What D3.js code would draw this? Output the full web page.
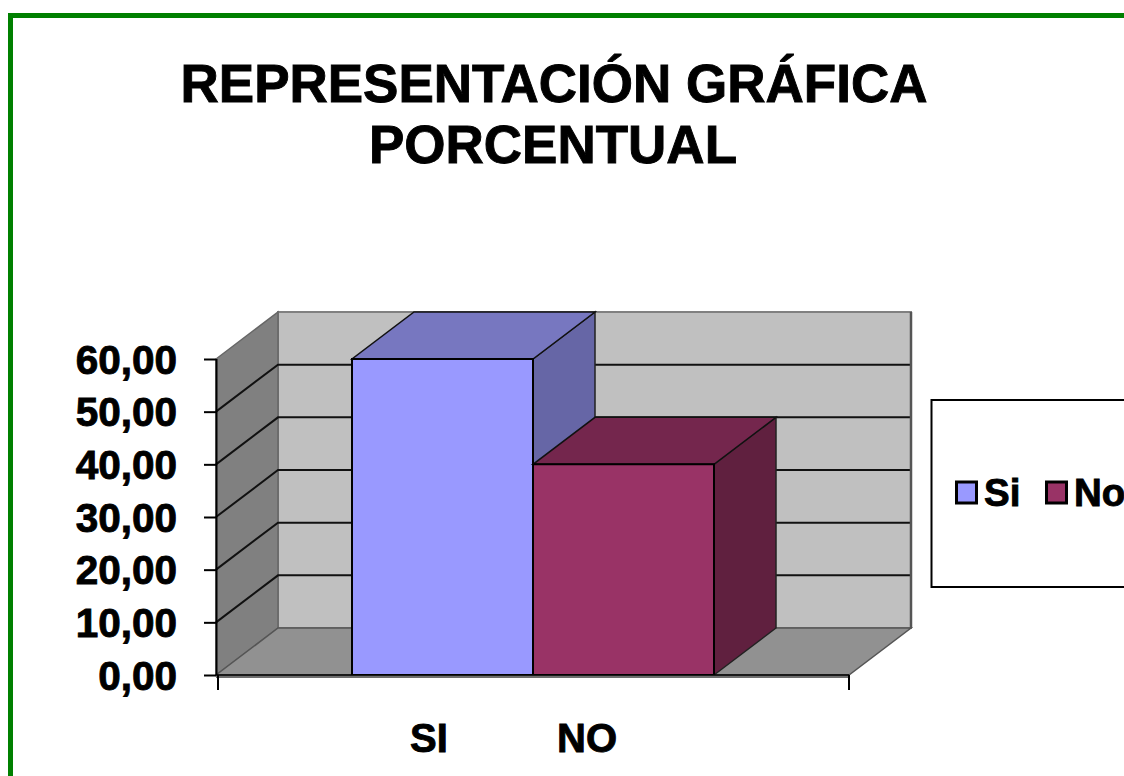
<!DOCTYPE html>
<html>
<head>
<meta charset="utf-8">
<script src="https://cdnjs.cloudflare.com/ajax/libs/d3/7.8.5/d3.min.js"></script>
<style>
    html, body { margin: 0; padding: 0; background: #fff; overflow: hidden; }
    svg { display: block; }
    text { font-family: "Liberation Sans", Arial, sans-serif; font-weight: bold; fill: #000; stroke: #000; stroke-width: 0.9px; }
    .axis path { display: none; }
    .axis line { stroke: #000; stroke-width: 2; }
</style>
</head>
<body>
<svg id="chart" width="1124" height="776"></svg>
<script>
const titleLines = ["REPRESENTACIÓN GRÁFICA", "PORCENTUAL"];
const categories = ["SI", "NO"];
const legendNames = ["Si", "No"];
const values = [60, 40];
const yTicks = [0, 10, 20, 30, 40, 50, 60];
const faceColors = ["#9999ff", "#993366"];
const topColors = ["#7777c0", "#74264d"];
const sideColors = ["#6666a6", "#60203f"];

const svg = d3.select("#chart");

// frame, only left and top show in the picture
svg.append("path")
    .attr("d", "M10.5,776V15.5H1124")
    .attr("fill", "none")
    .attr("stroke", "#008000")
    .attr("stroke-width", 5);

const title = svg.append("g").attr("text-anchor", "middle").attr("font-size", 53);
title.selectAll("text")
    .data(titleLines)
    .enter()
    .append("text")
    .attr("x", (d, i) => i === 0 ? 554 : 553)
    .attr("y", (d, i) => 102 + i * 61)
    .text(d => d);

const yScale = d3.scaleLinear().domain([0, 60]).range([675, 359]);
const wallX = d3.scaleLinear().domain([0, 1]).range([216, 849]);
const barX = d3.scaleBand().domain(categories).range([352, 714]);
const labelX = d3.scaleBand().domain(categories).range([350, 666]);
// 3d offset of the box, 0 = front plane, 1 = back wall
const depthX = d3.scaleLinear().domain([0, 1]).range([0, 62]);
const depthY = d3.scaleLinear().domain([0, 1]).range([0, -47]);

function pt (x, v, depth) {
    return [x + depthX(depth), yScale(v) + depthY(depth)];
}
function poly (parent, points, fill, stroke, strokeWidth) {
    return parent.append("polygon")
        .attr("points", points.map(p => p.join(",")).join(" "))
        .attr("fill", fill)
        .attr("stroke", stroke || "none")
        .attr("stroke-width", strokeWidth || 0);
}

const box = svg.append("g");
const left = wallX(0), right = wallX(1);

// back wall, side wall, floor
poly(box, [pt(left, 0, 1), pt(right, 0, 1), pt(right, 60, 1), pt(left, 60, 1)], "#c0c0c0", "#808080", 2);
poly(box, [pt(left, 0, 0), pt(left, 0, 1), pt(left, 60, 1), pt(left, 60, 0)], "#808080", "#666", 1.5);
poly(box, [pt(left, 0, 0), pt(right, 0, 0), pt(right, 0, 1), pt(left, 0, 1)], "#919191", "#555", 1.5);

// grid lines run along the side wall and the back wall
const grid = box.append("g").attr("fill", "none").attr("stroke", "#111").attr("stroke-width", 2);
grid.selectAll("path")
    .data(yTicks.filter(d => d > 0 && d < 60))
    .enter()
    .append("path")
    .attr("d", d => d3.line()([pt(left, d, 0), pt(left, d, 1), pt(right, d, 1)]));

// dark right edge of the back wall
box.append("line")
    .attr("x1", pt(right, 60, 1)[0]).attr("x2", pt(right, 0, 1)[0])
    .attr("y1", pt(right, 60, 1)[1]).attr("y2", pt(right, 0, 1)[1])
    .attr("stroke", "#555").attr("stroke-width", 2.5);

// bars, first one first so the second covers its side
categories.forEach((c, i) => {
    const x0 = barX(c), x1 = x0 + barX.bandwidth(), v = values[i];
    const g = box.append("g");
    poly(g, [pt(x1, 0, 0), pt(x1, 0, 1), pt(x1, v, 1), pt(x1, v, 0)], sideColors[i], "#222", 1.5);
    poly(g, [pt(x0, v, 0), pt(x1, v, 0), pt(x1, v, 1), pt(x0, v, 1)], topColors[i], "#111", 1.5);
    poly(g, [pt(x0, 0, 0), pt(x1, 0, 0), pt(x1, v, 0), pt(x0, v, 0)], faceColors[i], "#000", 2);
});

// base line under the floor
box.append("line")
    .attr("x1", left).attr("x2", right)
    .attr("y1", yScale(0) + 1.5).attr("y2", yScale(0) + 1.5)
    .attr("stroke", "#6e6e6e").attr("stroke-width", 3);
box.append("line")
    .attr("x1", left).attr("x2", right)
    .attr("y1", yScale(0)).attr("y2", yScale(0))
    .attr("stroke", "#000").attr("stroke-width", 1.5);

// axes
const esLocale = d3.formatLocale({decimal: ",", thousands: ".", grouping: [3], currency: ["", ""]});
const yAxis = svg.append("g")
    .attr("class", "axis")
    .attr("transform", "translate(" + left + ",0)")
    .call(d3.axisLeft(yScale).tickValues(yTicks).tickSize(12).tickPadding(27).tickFormat(esLocale.format(".2f")));
yAxis.selectAll("text").attr("font-size", 40.5).attr("font-family", null).attr("dy", "0.35em");
svg.append("line")
    .attr("x1", left + 0.5).attr("x2", left + 0.5)
    .attr("y1", yScale(60)).attr("y2", yScale(0))
    .attr("stroke", "#000").attr("stroke-width", 2);

const xTicks = svg.append("g").attr("stroke", "#000").attr("stroke-width", 2);
xTicks.selectAll("line")
    .data([0, 1])
    .enter()
    .append("line")
    .attr("x1", d => wallX(d) + (d === 0 ? 2 : 0))
    .attr("x2", d => wallX(d) + (d === 0 ? 2 : 0))
    .attr("y1", yScale(0))
    .attr("y2", yScale(0) + 15);

const xAxis = svg.append("g")
    .attr("class", "axis")
    .attr("transform", "translate(0," + yScale(0) + ")")
    .call(d3.axisBottom(labelX).tickSize(0).tickPadding(0));
xAxis.selectAll("text")
    .attr("font-size", 40)
    .attr("font-family", null)
    .attr("dy", 0)
    .attr("y", 77);

// legend
const legend = svg.append("g");
legend.append("rect")
    .attr("x", 931.5).attr("y", 400)
    .attr("width", 260).attr("height", 187)
    .attr("fill", "#fff")
    .attr("stroke", "#000")
    .attr("stroke-width", 2);
const legendX = d3.scaleBand().domain(legendNames).range([955, 1135]);
const items = legend.selectAll("g")
    .data(legendNames)
    .enter()
    .append("g")
    .attr("transform", d => "translate(" + legendX(d) + ",0)");
items.append("rect")
    .attr("x", 1.5).attr("y", 482)
    .attr("width", 20).attr("height", 21)
    .attr("fill", (d, i) => faceColors[i])
    .attr("stroke", "#000")
    .attr("stroke-width", 3);
items.append("text")
    .attr("x", 29)
    .attr("y", 506)
    .attr("font-size", 38.5)
    .text(d => d);
</script>
</body>
</html>
